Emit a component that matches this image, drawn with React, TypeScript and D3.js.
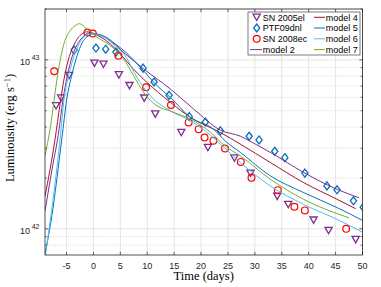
import React from "react";
import * as d3 from "d3";

// ---- data (log10 luminosity, erg/s) ----
const sn2005elDay = [-6.95, -6.01, -4.53, 0.19, 1.86, 4.73, 6.7, 9.44, 11.49, 16.33, 21.27, 26.2, 29.18, 34.15, 36.2, 40.91, 43.7, 48.73];
const sn2005elLog = [42.728, 42.774, 42.907, 42.98, 42.974, 42.911, 42.847, 42.773, 42.679, 42.57, 42.481, 42.419, 42.329, 42.192, 42.144, 42.051, 41.99, 41.936];

const ptf09dnlDay = [-3.59, 0.47, 2.27, 4.19, 9.22, 11.27, 14.06, 17.82, 20.8, 23.59, 28.94, 30.78, 33.69, 35.57, 39.29, 43.39, 45.27, 48.32, 50.13];
const ptf09dnlLog = [43.058, 43.07, 43.063, 43.046, 42.951, 42.869, 42.79, 42.664, 42.632, 42.58, 42.548, 42.526, 42.459, 42.421, 42.33, 42.254, 42.231, 42.166, 42.128];

const sn2008ecDay = [-7.28, -1.12, -0.11, 4.64, 9.78, 14.41, 17.69, 19.55, 20.65, 22.29, 24.45, 27.37, 29.37, 34.26, 37.34, 39.29, 46.96];
const sn2008ecLog = [42.933, 43.162, 43.156, 43.024, 42.838, 42.733, 42.63, 42.59, 42.54, 42.522, 42.476, 42.396, 42.302, 42.229, 42.131, 42.109, 42.0];

const model2Day = [-9.0, -7.69, -6.52, -5.64, -4.9, -3.97, -3.04, -1.92, -0.93, 0.32, 2.18, 4.04, 5.9, 9.31, 14.28, 18.62, 23.6, 27.32, 30.11, 32.9, 39.1, 45.33, 49.35];
const model2Log = [42.105, 42.352, 42.56, 42.768, 42.899, 43.018, 43.089, 43.137, 43.157, 43.154, 43.131, 43.089, 43.036, 42.947, 42.828, 42.709, 42.584, 42.548, 42.501, 42.452, 42.333, 42.233, 42.184];

const model4Day = [-9.0, -7.13, -6.2, -5.46, -4.71, -3.78, -2.85, -2.1, -1.23, -0.24, 1.25, 3.11, 4.97, 7.39, 9.94, 14.28, 18.0, 23.6, 27.32, 32.9, 39.1, 45.33, 48.73];
const model4Log = [42.192, 42.531, 42.739, 42.887, 42.994, 43.077, 43.131, 43.154, 43.166, 43.16, 43.137, 43.095, 43.036, 42.947, 42.867, 42.749, 42.66, 42.57, 42.501, 42.392, 42.273, 42.174, 42.119];

const model5Day = [-9.0, -7.69, -5.88, -4.95, -3.97, -3.04, -2.1, -1.17, -0.24, 0.88, 2.18, 4.04, 5.9, 8.7, 11.81, 14.28, 18.0, 22.3, 24.53, 27.32, 32.9, 39.1, 45.33, 50.28];
const model5Log = [41.847, 42.085, 42.531, 42.768, 42.917, 43.024, 43.101, 43.137, 43.154, 43.152, 43.137, 43.095, 43.048, 42.957, 42.847, 42.778, 42.66, 42.59, 42.519, 42.452, 42.313, 42.214, 42.125, 42.045];

const model6Day = [-9.0, -6.2, -5.46, -4.53, -3.59, -2.66, -1.73, -0.61, 0.5, 2.18, 4.04, 5.9, 8.08, 10.56, 14.28, 18.0, 21.73, 23.6, 27.32, 32.9, 39.1, 45.33, 50.28];
const model6Log = [41.829, 42.531, 42.768, 42.917, 43.024, 43.095, 43.137, 43.154, 43.152, 43.131, 43.083, 43.024, 42.897, 42.788, 42.699, 42.639, 42.554, 42.501, 42.392, 42.253, 42.144, 42.055, 41.976];

const model7Day = [-9.0, -8.38, -7.97, -7.41, -6.82, -6.2, -5.59, -4.34, -3.41, -2.61, -1.23, 0.63, 3.11, 5.59, 7.45, 9.31, 11.81, 14.28, 18.0, 21.73, 24.5, 27.32, 32.9, 39.1, 47.49];
const model7Log = [42.431, 42.531, 42.608, 42.739, 42.875, 42.994, 43.083, 43.172, 43.202, 43.214, 43.184, 43.135, 43.085, 43.006, 42.907, 42.808, 42.728, 42.697, 42.649, 42.572, 42.489, 42.431, 42.293, 42.174, 42.065];

const xTicks = [-5, 0, 5, 10, 15, 20, 25, 30, 35, 40, 45, 50];
const yMajor = [1e42, 1e43];
const yMinor = [8e41, 9e41, 2e42, 3e42, 4e42, 5e42, 6e42, 7e42, 8e42, 9e42, 2e43];

const models = [
  { name: "model 2", day: model2Day, log: model2Log, color: "#7E2F8E" },
  { name: "model 4", day: model4Day, log: model4Log, color: "#A2142F" },
  { name: "model 5", day: model5Day, log: model5Log, color: "#0072BD" },
  { name: "model 6", day: model6Day, log: model6Log, color: "#4DBEEE" },
  { name: "model 7", day: model7Day, log: model7Log, color: "#77AC30" },
];

const L = 45, R = 362.5, T = 9, B = 255;
const AX = "#262626";
const SANS = "'Liberation Sans', Arial, Helvetica, sans-serif";
const SERIF = "'Liberation Serif', 'Times New Roman', serif";

function Tri({ cx, cy, color }: any) {
  const w = 3.6, h = 3.2;
  return <path d={`M${cx - w},${cy - h}L${cx + w},${cy - h}L${cx},${cy + h}Z`} fill="none" stroke={color} strokeWidth={1.3} />;
}
function Dia({ cx, cy, color }: any) {
  const w = 3.1, h = 4;
  return <path d={`M${cx},${cy - h}L${cx + w},${cy}L${cx},${cy + h}L${cx - w},${cy}Z`} fill="none" stroke={color} strokeWidth={1.3} />;
}
function Circ({ cx, cy, color }: any) {
  return <circle cx={cx} cy={cy} r={3.4} fill="none" stroke={color} strokeWidth={1.2} />;
}

export default function App() {
  const x = d3.scaleLinear().domain([-9, 50]).range([L, R]);
  const y = d3.scaleLog().domain([7e41, 2e43]).range([B, T]);
  const line = d3
    .line<[number, number]>()
    .x((d) => x(d[0]))
    .y((d) => y(Math.pow(10, d[1])))
    .curve(d3.curveMonotoneX);

  const pts = (days: number[], logs: number[]) => days.map((d, i) => [x(d), y(Math.pow(10, logs[i]))]);

  const legRows = [17.3, 28, 38.8, 49.6];

  return (
    <svg width={381} height={287} style={{ position: "absolute", left: 0, top: 0, background: "#fff" }}>
      <defs>
        <clipPath id="plotclip">
          <rect x={L} y={T} width={R - L} height={B - T} />
        </clipPath>
      </defs>
      <rect x={0} y={0} width={381} height={287} fill="#fff" />
      {/* grid */}
      {yMinor.map((v) => (
        <line key={"gm" + v} x1={L} x2={R} y1={y(v)} y2={y(v)} stroke="#d4d4d4" strokeWidth={0.6} strokeDasharray="1.5,1" />
      ))}
      {yMajor.map((v) => (
        <line key={"gM" + v} x1={L} x2={R} y1={y(v)} y2={y(v)} stroke="#dedede" strokeWidth={0.8} />
      ))}
      {xTicks.map((v) => (
        <line key={"gx" + v} x1={x(v)} x2={x(v)} y1={T} y2={B} stroke="#dedede" strokeWidth={0.8} />
      ))}

      {/* data markers */}
      <g clipPath="url(#plotclip)">
        {pts(sn2005elDay, sn2005elLog).map(([cx, cy], i) => <Tri key={"t" + i} cx={cx} cy={cy} color="#7E2F8E" />)}
        {pts(ptf09dnlDay, ptf09dnlLog).map(([cx, cy], i) => <Dia key={"d" + i} cx={cx} cy={cy} color="#0072BD" />)}
        {pts(sn2008ecDay, sn2008ecLog).map(([cx, cy], i) => <Circ key={"c" + i} cx={cx} cy={cy} color="#FF0000" />)}
        {models.map((m) => (
          <path key={m.name} d={line(m.day.map((d, i) => [d, m.log[i]]) as any) || ""} fill="none" stroke={m.color} strokeWidth={1} />
        ))}
      </g>

      {/* axes box */}
      <rect x={L} y={T} width={R - L} height={B - T} fill="none" stroke={AX} strokeWidth={0.8} />
      {xTicks.map((v) => (
        <g key={"xt" + v}>
          <line x1={x(v)} x2={x(v)} y1={B} y2={B - 3.2} stroke={AX} strokeWidth={0.7} />
          <line x1={x(v)} x2={x(v)} y1={T} y2={T + 3.2} stroke={AX} strokeWidth={0.7} />
          <text x={x(v)} y={268.5} textAnchor="middle" fontFamily={SANS} fontSize={9} fill={AX}>
            {v < 0 ? "-" + Math.abs(v) : v}
          </text>
        </g>
      ))}
      {yMajor.concat(yMinor).map((v) => {
        const len = yMajor.includes(v) ? 3.2 : 1.8;
        return (
          <g key={"yt" + v}>
            <line x1={L} x2={L + len} y1={y(v)} y2={y(v)} stroke={AX} strokeWidth={0.7} />
            <line x1={R} x2={R - len} y1={y(v)} y2={y(v)} stroke={AX} strokeWidth={0.7} />
          </g>
        );
      })}
      {yMajor.map((v) => (
        <text key={"yl" + v} x={39.5} y={y(v) + 4.8} textAnchor="end" fontFamily={SANS} fontSize={9} fill={AX}>
          10
          <tspan dx={1.6} dy={-5} fontSize={7}>
            {Math.round(Math.log10(v))}
          </tspan>
        </text>
      ))}

      {/* axis labels */}
      <text x={(L + R) / 2} y={280} textAnchor="middle" fontFamily={SERIF} fontSize={12.5} fill="#000">
        Time (days)
      </text>
      <text transform={`translate(14,${(T + B) / 2 - 4}) rotate(-90)`} textAnchor="middle" fontFamily={SERIF} fontSize={12.5} fill="#000">
        Luminousity (erg s
        <tspan dy={-4.5} fontSize={8.5}>−1</tspan>
        <tspan dy={4.5}>)</tspan>
      </text>

      {/* legend */}
      <rect x={248} y={12} width={112} height={43} fill="#fff" stroke={AX} strokeWidth={0.6} />
      <Tri cx={256.7} cy={legRows[0]} color="#7E2F8E" />
      <Dia cx={256.7} cy={legRows[1]} color="#0072BD" />
      <Circ cx={256.7} cy={legRows[2]} color="#FF0000" />
      <line x1={250} x2={262} y1={legRows[3]} y2={legRows[3]} stroke="#7E2F8E" strokeWidth={1} />
      {["SN 2005el", "PTF09dnl", "SN 2008ec", "model 2"].map((t, i) => (
        <text key={t} x={262.7} y={legRows[i] + 3.2} fontFamily={SANS} fontSize={9} fill="#000">
          {t}
        </text>
      ))}
      {models.slice(1).map((m, i) => (
        <g key={"lg" + m.name}>
          <line x1={314} x2={325} y1={legRows[i]} y2={legRows[i]} stroke={m.color} strokeWidth={1} />
          <text x={325.7} y={legRows[i] + 3.2} fontFamily={SANS} fontSize={9} fill="#000">
            {m.name}
          </text>
        </g>
      ))}
    </svg>
  );
}
